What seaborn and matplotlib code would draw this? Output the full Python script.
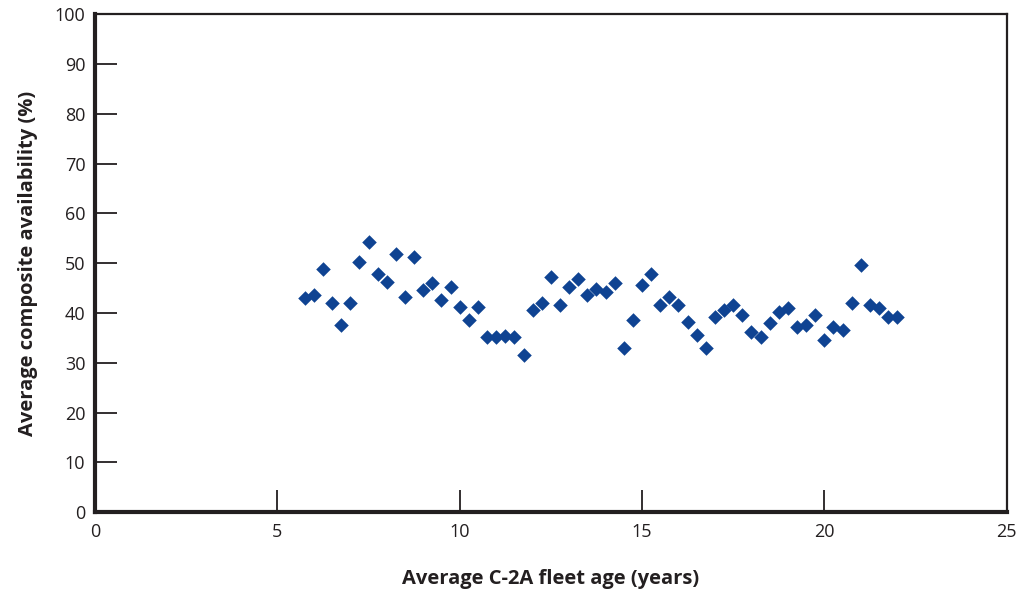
import matplotlib
matplotlib.use("Agg")
import matplotlib.pyplot as plt
import seaborn as sns
import pandas as pd

fleet_age = [5.75, 6.00, 6.25, 6.50, 6.75, 7.00, 7.25, 7.50, 7.75, 8.00,
             8.25, 8.50, 8.75, 9.00, 9.25, 9.50, 9.75, 10.00, 10.25, 10.50,
             10.75, 11.00, 11.25, 11.50, 11.75, 12.00, 12.25, 12.50, 12.75, 13.00,
             13.25, 13.50, 13.75, 14.00, 14.25, 14.50, 14.75, 15.00, 15.25, 15.50,
             15.75, 16.00, 16.25, 16.50, 16.75, 17.00, 17.25, 17.50, 17.75, 18.00,
             18.25, 18.50, 18.75, 19.00, 19.25, 19.50, 19.75, 20.00, 20.25, 20.50,
             20.75, 21.00, 21.25, 21.50, 21.75, 22.00]
availability = [43.0, 43.6, 48.9, 41.9, 37.6, 41.9, 50.3, 54.3, 47.9, 46.2,
                51.9, 43.2, 51.3, 44.6, 46.0, 42.6, 45.2, 41.1, 38.6, 41.1,
                35.2, 35.2, 35.3, 35.2, 31.5, 40.6, 41.9, 47.3, 41.6, 45.2,
                46.9, 43.6, 44.9, 44.2, 46.0, 32.9, 38.6, 45.6, 47.9, 41.6,
                43.3, 41.5, 38.2, 35.5, 32.9, 39.2, 40.6, 41.6, 39.6, 36.2,
                35.2, 37.9, 40.2, 40.9, 37.2, 37.6, 39.6, 34.5, 37.2, 36.5,
                41.9, 49.6, 41.6, 40.9, 39.2, 39.2]
x_ticks = [0, 5, 10, 15, 20, 25]
y_ticks = [0, 10, 20, 30, 40, 50, 60, 70, 80, 90, 100]

sns.set_style("white")
plt.rcParams['font.family'] = ['Open Sans', 'DejaVu Sans']

df = pd.DataFrame({"age": fleet_age, "avail": availability})

fig = plt.figure(figsize=(10.22, 5.90), dpi=100)
ax = fig.add_axes([0.093, 0.132, 0.892, 0.844])

sns.scatterplot(data=df, x="age", y="avail", marker="D", s=55,
                color="#0f4392", linewidth=0, ax=ax)

ax.set_xlim(0, 25)
ax.set_ylim(0, 100)
ax.set_xticks(x_ticks)
ax.set_yticks(y_ticks)
ax.tick_params(axis="both", direction="in", length=16, width=1.3,
               color="#231f20", labelsize=13, labelcolor="#231f20")
ax.tick_params(axis="y", pad=7, left=True, right=False)
ax.tick_params(axis="x", pad=8, bottom=True, top=False)

for side, lw in [("left", 3.0), ("bottom", 3.0), ("top", 1.6), ("right", 1.6)]:
    ax.spines[side].set_visible(True)
    ax.spines[side].set_linewidth(lw)
    ax.spines[side].set_color("#231f20")

ax.set_xlabel("Average C-2A fleet age (years)", fontsize=14.5, fontweight="bold",
              color="#231f20", labelpad=20)
ax.set_ylabel("Average composite availability (%)", fontsize=14.5, fontweight="bold",
              color="#231f20", labelpad=12)

fig.savefig("out.png", dpi=100)
